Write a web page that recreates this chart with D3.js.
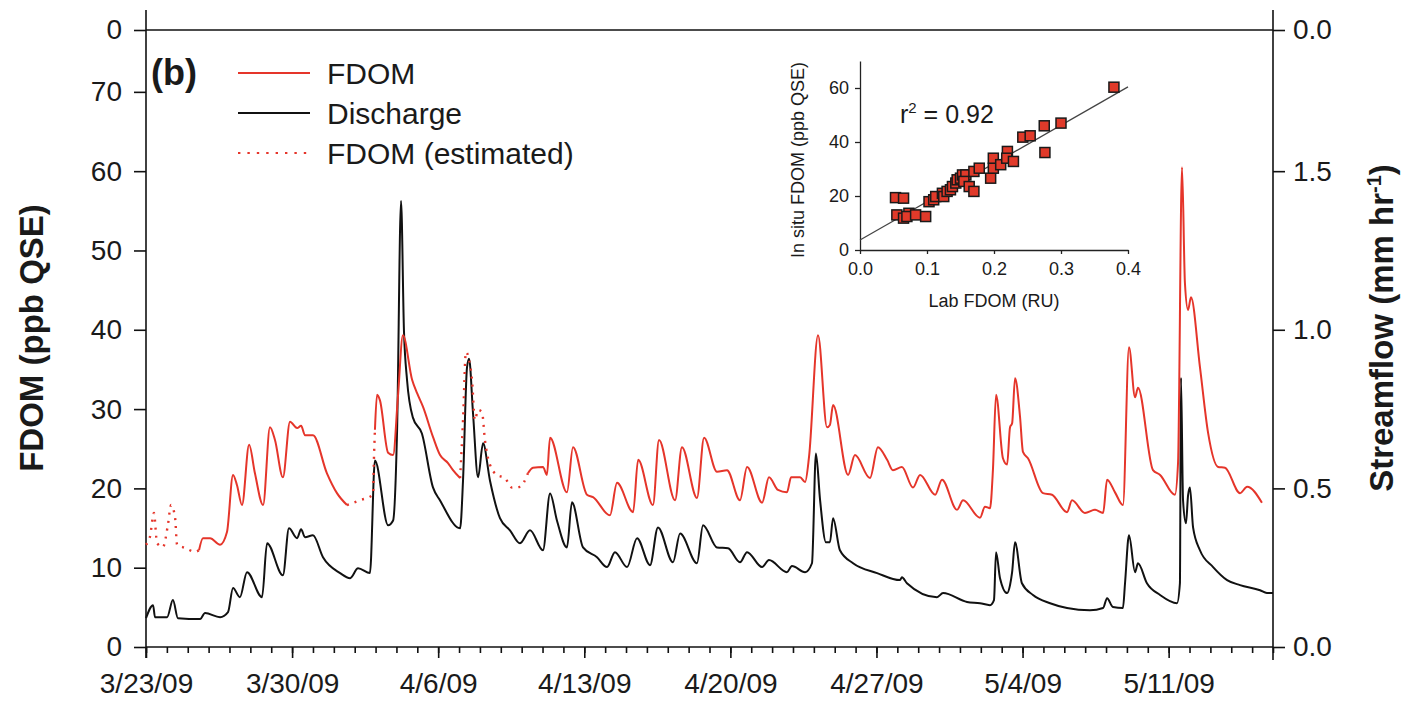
<!DOCTYPE html>
<html>
<head>
<meta charset="utf-8">
<script src="https://cdn.jsdelivr.net/npm/d3@7"></script>
<style>
  body { margin: 0; background: #fff; }
  svg text { font-family: "Liberation Sans", Arial, Helvetica, sans-serif; fill: #1a1a1a; }
</style>
</head>
<body>
<svg id="chart" width="1408" height="701"></svg>
<script>
// ---- data (day offset from 3/23/09, value) ----
// discharge in mm/hr (right axis)
var discharge = [
  [0.00,0.091],[0.34,0.132],[0.43,0.094],[1.01,0.094],[1.29,0.148],[1.53,0.091],[2.59,0.088],
  [2.83,0.107],[3.55,0.094],[3.93,0.110],[4.17,0.186],[4.50,0.157],[4.84,0.236],[5.56,0.157],
  [5.80,0.327],[6.56,0.226],[6.85,0.374],[7.24,0.343],[7.43,0.371],[7.62,0.346],[8.00,0.352],
  [8.48,0.283],[9.30,0.233],[9.78,0.217],[10.16,0.248],[10.73,0.233],[10.97,0.588],[11.60,0.384],
  [11.84,0.399],[12.03,0.682],[12.22,1.406],[12.36,0.997],[12.51,0.840],[12.79,0.723],[13.22,0.673],
  [13.75,0.503],[14.09,0.462],[15.05,0.374],[15.19,0.525],[15.38,0.881],[15.48,0.909],[15.67,0.736],
  [15.91,0.535],[16.15,0.642],[16.48,0.525],[16.96,0.406],[17.44,0.368],[17.92,0.327],[18.40,0.368],
  [19.02,0.305],[19.36,0.484],[19.69,0.399],[20.17,0.314],[20.41,0.456],[20.94,0.314],[21.61,0.283],
  [22.09,0.252],[22.47,0.299],[23.05,0.252],[23.53,0.343],[24.15,0.258],[24.53,0.377],[25.25,0.267],
  [25.59,0.358],[26.40,0.264],[26.69,0.384],[27.36,0.314],[27.89,0.311],[28.46,0.267],[28.80,0.299],
  [29.52,0.252],[29.85,0.274],[30.71,0.236],[30.95,0.255],[31.58,0.236],[31.91,0.264],[32.10,0.610],
  [32.30,0.462],[32.58,0.330],[32.77,0.330],[32.92,0.406],[33.25,0.305],[33.88,0.264],[35.03,0.233],
  [36.13,0.211],[36.22,0.220],[36.46,0.201],[37.90,0.157],[38.19,0.170],[39.34,0.142],[39.96,0.138],
  [40.44,0.132],[40.63,0.148],[40.73,0.299],[40.92,0.217],[41.26,0.170],[41.40,0.195],[41.50,0.236],
  [41.64,0.330],[41.97,0.201],[42.50,0.164],[43.32,0.138],[44.13,0.123],[45.23,0.116],[45.86,0.123],
  [46.05,0.154],[46.33,0.126],[46.81,0.123],[46.91,0.201],[47.10,0.352],[47.39,0.236],[47.53,0.264],
  [47.96,0.201],[48.59,0.164],[49.40,0.138],[49.54,0.201],[49.59,0.849],[49.69,0.462],[49.83,0.390],
  [49.93,0.478],[50.02,0.503],[50.17,0.377],[50.50,0.305],[51.13,0.252],[51.80,0.211],[52.42,0.195],
  [53.38,0.179],[53.71,0.170],[54.00,0.170]
]
// measured FDOM in ppb QSE, one array per unbroken stretch
var fdomA = [
  [2.54,12.2],[2.73,13.7],[3.07,13.7],[3.55,12.9],[3.88,14.5],[4.17,21.7],[4.36,20.4],[4.60,17.9],
  [4.94,25.5],[5.22,21.9],[5.61,17.9],[5.94,27.7],[6.18,26.1],[6.56,21.4],[6.90,28.4],[7.24,27.6],
  [7.43,27.9],[7.62,26.7],[8.00,26.7],[8.67,21.9],[9.15,19.4],[9.63,17.9]
]
var fdomB = [
  [10.97,27.4],[11.07,31.8],[11.21,31.1],[11.60,24.5],[11.84,24.2],[12.07,31.5],[12.31,39.3],
  [12.75,33.7],[12.99,32.0],[13.27,30.3],[13.75,26.5],[14.09,24.2],[14.47,23.2],[14.71,22.3],[15.05,21.3]
]
var fdomC = [
  [18.30,21.9],[18.54,22.6],[19.02,22.7],[19.21,21.7],[19.36,26.4],[20.17,19.5],[20.46,25.2],
  [21.13,19.2],[21.42,18.9],[22.23,16.6],[22.57,20.7],[23.34,17.0],[23.58,23.6],[24.29,17.9],
  [24.58,26.1],[25.35,18.5],[25.68,25.2],[26.40,18.8],[26.74,26.4],[27.36,22.1],[27.84,22.3],
  [28.46,18.5],[28.80,22.7],[29.52,18.2],[29.85,21.4],[30.28,19.8],[30.71,19.5],[30.91,21.4],
  [31.34,21.4],[31.58,20.8],[31.77,24.0],[32.20,39.3],[32.63,27.7],[32.77,28.0],[32.92,30.5],
  [33.64,21.7],[33.97,24.2],[34.69,21.3],[35.07,25.2],[35.51,23.6],[35.79,22.3],[36.22,22.7],
  [36.75,20.1],[37.09,21.7],[37.81,19.2],[38.14,21.1],[38.86,17.3],[39.15,18.5],[39.96,16.3],
  [40.20,17.7],[40.44,17.5],[40.58,22.3],[40.73,31.8],[41.06,23.8],[41.26,23.0],[41.40,27.7],
  [41.50,28.2],[41.64,33.9],[41.88,29.0],[42.02,24.6],[42.26,23.8],[42.98,19.4],[43.41,19.2],
  [44.13,17.0],[44.37,18.5],[44.99,16.9],[45.47,17.3],[45.86,16.9],[46.05,21.1],[46.43,19.5],
  [46.81,17.9],[47.10,37.8],[47.39,31.5],[47.53,32.7],[48.25,22.3],[48.59,21.7],[49.30,19.2],
  [49.45,23.2],[49.64,60.5],[49.78,45.9],[49.93,42.5],[50.07,44.1],[50.50,35.3],[50.89,27.0],
  [51.37,22.7],[51.70,22.6],[52.42,19.4],[52.76,20.2],[53.47,18.2]
]
// estimated FDOM (gaps)
var estA = [
  [0.00,12.9],[0.19,13.9],[0.38,16.9],[0.53,13.1],[0.81,12.6],[1.05,15.4],[1.20,17.9],[1.39,16.4],
  [1.49,12.9],[1.87,12.5],[2.35,12.0],[2.54,12.2]
]
var estB = [[9.63,17.9],[10.25,18.5],[10.88,19.2],[10.92,23.6],[10.97,27.4]]
var estC = [
  [15.05,21.3],[15.19,28.6],[15.33,37.2],[15.48,36.2],[15.62,33.7],[15.76,28.6],[15.91,29.9],
  [16.10,29.6],[16.24,26.1],[16.48,23.0],[16.82,21.7],[17.20,21.3],[17.54,20.1],[17.92,20.2],[18.30,21.9]
]
// inset: lab FDOM (RU) vs in situ FDOM (ppb QSE)
var labFdom  = [0.053,0.065,0.055,0.065,0.073,0.070,0.083,0.098,0.103,0.110,0.113,0.123,0.125,0.130,
                0.135,0.138,0.143,0.145,0.150,0.153,0.158,0.155,0.163,0.170,0.170,0.178,0.195,0.199,
                0.199,0.210,0.220,0.219,0.229,0.243,0.254,0.275,0.276,0.300,0.379]
var insituFdom = [19.4,19.2,13.0,11.8,13.6,12.4,13.0,12.4,17.9,18.6,19.8,21.0,19.8,21.7,
                22.3,23.5,24.8,26.0,26.6,27.8,27.8,25.4,23.5,21.7,29.1,30.3,26.6,30.3,
                34.0,31.6,36.5,34.0,32.8,41.8,42.3,46.0,36.1,47.0,60.3]
var fitLine = [[0,3.7],[0.4,60.4]]

var xTickDays = [0,7,14,21,28,35,42,49]
var fdomTicks = [0,10,20,30,40,50,60,70]
var flowTicks = [0,0.5,1.0,1.5]
var legendItems = ["FDOM","Discharge","FDOM (estimated)"]

// ---- drawing ----
var red = "#e5352a",
    svg = d3.select("#chart"),
    pL = 146, pR = 1273, pT = 30, pB = 647,
    t0 = new Date(2009,2,23),
    toDate = d => new Date(t0.getTime() + d*864e5),
    fdomTop = 77.8,
    xScale = d3.scaleTime().domain([t0, toDate(54)]).range([pL, pR]),
    yScale = d3.scaleLinear().domain([0, fdomTop]).range([pB, pT]),
    yFlow = d3.scaleLinear().domain([0, fdomTop/40]).range([pB, pT])

var fdomLine = d3.line().curve(d3.curveMonotoneX).x(d => xScale(toDate(d[0]))).y(d => yScale(d[1]))
var flowLine = d3.line().curve(d3.curveMonotoneX).x(d => xScale(toDate(d[0]))).y(d => yFlow(d[1]))

// axes
var fmtDate = d => (d.getMonth()+1) + "/" + d.getDate() + "/09"
var xMinor = d3.axisBottom(xScale).tickValues(d3.range(0,55).map(toDate))
    .tickSize(6).tickFormat("")
var xMajor = d3.axisBottom(xScale).tickValues(xTickDays.map(toDate))
    .tickSize(11).tickPadding(15).tickFormat(fmtDate)
var yAxis = d3.axisLeft(yScale).tickValues(fdomTicks.concat([fdomTop]))
    .tickSize(12).tickPadding(12).tickFormat(d => d == fdomTop ? "0" : d)
var rAxis = d3.axisRight(yFlow).tickValues(flowTicks.concat([fdomTop/40]))
    .tickSize(12).tickPadding(8).tickFormat(d => d == fdomTop/40 ? "0.0" : d3.format(".1f")(d))

function styleAxis(g, size) {
  g.select(".domain").remove()
  g.selectAll("line").attr("stroke", "#111").attr("stroke-width", 1.6)
  g.selectAll("text").style("font-size", size + "px").attr("fill", "#1a1a1a")
}
svg.append("g").attr("transform", "translate(0," + pB + ")").call(xMinor).call(g => styleAxis(g, 28))
svg.append("g").attr("transform", "translate(0," + pB + ")").call(xMajor).call(g => styleAxis(g, 28))
svg.append("g").attr("transform", "translate(" + pL + ",0)").call(yAxis).call(g => styleAxis(g, 28))
svg.append("g").attr("transform", "translate(" + pR + ",0)").call(rAxis).call(g => styleAxis(g, 28))

// frame lines (axis lines run a bit past the ends)
var frame = [[pL, 10, pL, pB + 11], [pR, 10, pR, pB + 13],
             [pL, pB, pR, pB], [pL, pT, pR, pT]]
svg.selectAll(".frame").data(frame).enter().append("line")
  .attr("x1", d => d[0]).attr("y1", d => d[1]).attr("x2", d => d[2]).attr("y2", d => d[3])
  .attr("stroke", "#111").attr("stroke-width", 1.6)

// axis titles
svg.append("text").attr("transform", "translate(43,338) rotate(-90)")
  .attr("text-anchor", "middle").style("font-size", "33px").style("font-weight", "bold")
  .text("FDOM (ppb QSE)")
var rt = svg.append("text").attr("transform", "translate(1393,328) rotate(-90)")
  .attr("text-anchor", "middle").style("font-size", "33px").style("font-weight", "bold")
rt.append("tspan").text("Streamflow (mm hr")
rt.append("tspan").attr("dy", -12).style("font-size", "20px").text("-1")
rt.append("tspan").attr("dy", 12).text(")")

// series
svg.append("path").datum(discharge).attr("d", flowLine)
  .attr("fill", "none").attr("stroke", "#111").attr("stroke-width", 2)
;[fdomA, fdomB, fdomC].forEach(s => {
  svg.append("path").datum(s).attr("d", fdomLine)
    .attr("fill", "none").attr("stroke", red).attr("stroke-width", 2)
})
;[estA, estB, estC].forEach(s => {
  svg.append("path").datum(s).attr("d", fdomLine)
    .attr("fill", "none").attr("stroke", red).attr("stroke-width", 2.4)
    .attr("stroke-dasharray", "2,6")
})

// panel label + legend
svg.append("text").attr("x", 151).attr("y", 85).style("font-size", "36px").style("font-weight", "bold").text("(b)")
var leg = svg.selectAll(".leg").data(legendItems).enter().append("g")
  .attr("transform", (d, i) => "translate(238," + (73 + i*40) + ")")
leg.append("line").attr("x1", 0).attr("x2", 72)
  .attr("stroke", (d, i) => i == 1 ? "#111" : red).attr("stroke-width", 2)
  .attr("stroke-dasharray", (d, i) => i == 2 ? "2.4,7" : null)
leg.append("text").attr("x", 89).attr("y", 11).style("font-size", "30px").text(d => d)

// ---- inset scatter ----
var ix = d3.scaleLinear().domain([0, 0.4]).range([860, 1128]),
    iy = d3.scaleLinear().domain([0, 70]).range([250, 61])
var ixAxis = d3.axisBottom(ix).tickValues([0,0.1,0.2,0.3,0.4]).tickSize(4).tickSizeOuter(0).tickPadding(8).tickFormat(d3.format(".1f"))
var iyAxis = d3.axisLeft(iy).tickValues([0,20,40,60]).tickSize(5).tickSizeOuter(0).tickPadding(6)
svg.append("g").attr("transform", "translate(0,250)").call(ixAxis)
  .call(g => { g.selectAll("text").style("font-size", "18px"); g.selectAll("line,path").attr("stroke", "#222").attr("stroke-width", 1.3) })
svg.append("g").attr("transform", "translate(860,0)").call(iyAxis)
  .call(g => { g.selectAll("text").style("font-size", "18px"); g.selectAll("line,path").attr("stroke", "#222").attr("stroke-width", 1.3) })
svg.append("text").attr("x", 994).attr("y", 307).attr("text-anchor", "middle").style("font-size", "18px").text("Lab FDOM (RU)")
svg.append("text").attr("transform", "translate(804,160) rotate(-90)").attr("text-anchor", "middle")
  .style("font-size", "18px").text("In situ FDOM (ppb QSE)")
var r2 = svg.append("text").attr("x", 900).attr("y", 123).style("font-size", "25px")
r2.append("tspan").text("r")
r2.append("tspan").attr("dy", -10).style("font-size", "15px").text("2")
r2.append("tspan").attr("dy", 10).text(" = 0.92")

svg.append("line").attr("x1", ix(fitLine[0][0])).attr("y1", iy(fitLine[0][1]))
  .attr("x2", ix(fitLine[1][0])).attr("y2", iy(fitLine[1][1]))
  .attr("stroke", "#444").attr("stroke-width", 1.3)
svg.selectAll(".pt").data(labFdom).enter().append("rect")
  .attr("x", (d, i) => ix(d) - 5).attr("y", (d, i) => iy(insituFdom[i]) - 5)
  .attr("width", 10).attr("height", 10)
  .attr("fill", "#e03a2a").attr("stroke", "#1a1a1a").attr("stroke-width", 1.5)
</script>
</body>
</html>
